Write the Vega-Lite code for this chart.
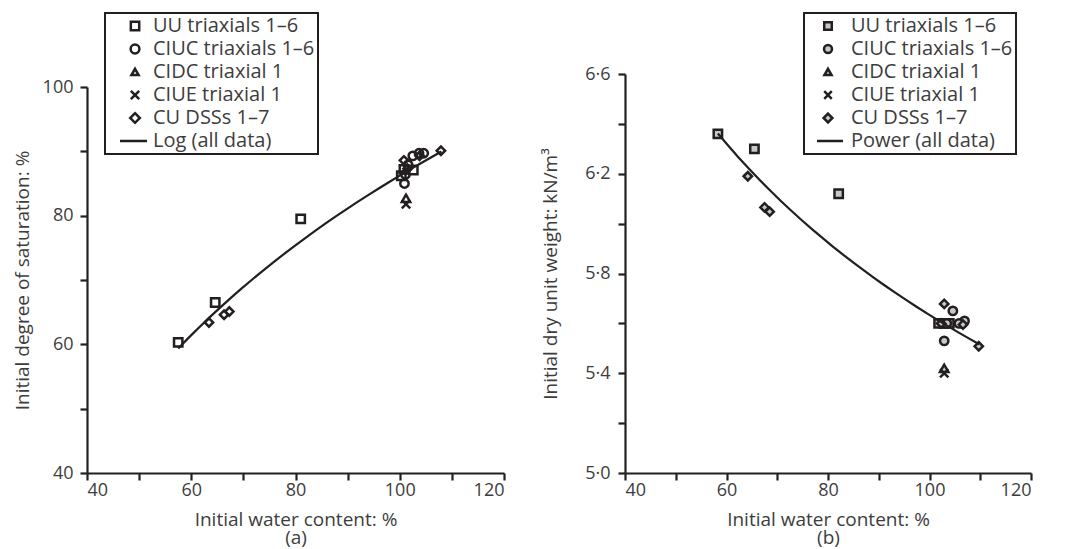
{
  "$schema": "https://vega.github.io/schema/vega-lite/v6.json",
  "background": "white",
  "padding": {"left": 13, "top": 12, "right": 5, "bottom": 6},
  "bounds": "flush",
  "spacing": 121,
  "config": {
    "font": "Open Sans",
    "view": {"stroke": null},
    "axis": {
      "grid": false,
      "domainColor": "#231f20",
      "domainWidth": 2.2,
      "tickColor": "#231f20",
      "tickWidth": 2.2,
      "tickSize": 7,
      "labelFont": "Open Sans",
      "labelFontSize": 18,
      "labelColor": "#3d3d3d",
      "titleFont": "Open Sans",
      "titleFontSize": 19,
      "titleFontWeight": "normal",
      "titleColor": "#3d3d3d"
    },
    "legend": {
      "orient": "none",
      "title": null,
      "padding": 3,
      "rowPadding": 3,
      "symbolSize": 70,
      "symbolStrokeWidth": 2.5,
      "symbolStrokeColor": "#231f20",
      "strokeColor": "#231f20",
      "strokeWidth": 2,
      "labelFont": "Open Sans",
      "labelFontSize": 20,
      "labelColor": "#3d3d3d",
      "labelLimit": 400
    }
  },
  "datasets": {
    "a": [
      {"series": "UU triaxials 1–6", "w": 57.5, "Sr": 60.3},
      {"series": "UU triaxials 1–6", "w": 64.6, "Sr": 66.5},
      {"series": "UU triaxials 1–6", "w": 81.0, "Sr": 79.5},
      {"series": "UU triaxials 1–6", "w": 100.3, "Sr": 86.2},
      {"series": "UU triaxials 1–6", "w": 100.8, "Sr": 87.2},
      {"series": "UU triaxials 1–6", "w": 102.6, "Sr": 87.1},
      {"series": "CIUC triaxials 1–6", "w": 100.9, "Sr": 85.0},
      {"series": "CIUC triaxials 1–6", "w": 101.1, "Sr": 86.4},
      {"series": "CIUC triaxials 1–6", "w": 102.5, "Sr": 89.3},
      {"series": "CIUC triaxials 1–6", "w": 103.7, "Sr": 89.7},
      {"series": "CIUC triaxials 1–6", "w": 104.6, "Sr": 89.7},
      {"series": "CIUC triaxials 1–6", "w": 101.6, "Sr": 87.9},
      {"series": "CIDC triaxial 1", "w": 101.2, "Sr": 82.7},
      {"series": "CIUE triaxial 1", "w": 101.2, "Sr": 81.8},
      {"series": "CU DSSs 1–7", "w": 63.4, "Sr": 63.4},
      {"series": "CU DSSs 1–7", "w": 66.3, "Sr": 64.6},
      {"series": "CU DSSs 1–7", "w": 67.3, "Sr": 65.1},
      {"series": "CU DSSs 1–7", "w": 100.8, "Sr": 88.6},
      {"series": "CU DSSs 1–7", "w": 107.9, "Sr": 90.1},
      {"series": "CU DSSs 1–7", "w": 103.8, "Sr": 89.3},
      {"series": "CU DSSs 1–7", "w": 101.5, "Sr": 87.3}
    ],
    "b": [
      {"series": "UU triaxials 1–6", "w": 58.3, "g": 6.36},
      {"series": "UU triaxials 1–6", "w": 65.5, "g": 6.30},
      {"series": "UU triaxials 1–6", "w": 82.1, "g": 6.12},
      {"series": "UU triaxials 1–6", "w": 101.8, "g": 5.60},
      {"series": "UU triaxials 1–6", "w": 102.8, "g": 5.60},
      {"series": "UU triaxials 1–6", "w": 103.9, "g": 5.60},
      {"series": "CIUC triaxials 1–6", "w": 102.9, "g": 5.53},
      {"series": "CIUC triaxials 1–6", "w": 104.6, "g": 5.65},
      {"series": "CIUC triaxials 1–6", "w": 106.5, "g": 5.60},
      {"series": "CIUC triaxials 1–6", "w": 106.9, "g": 5.61},
      {"series": "CIUC triaxials 1–6", "w": 103.4, "g": 5.60},
      {"series": "CIUC triaxials 1–6", "w": 105.8, "g": 5.60},
      {"series": "CIDC triaxial 1", "w": 102.9, "g": 5.42},
      {"series": "CIUE triaxial 1", "w": 102.9, "g": 5.40},
      {"series": "CU DSSs 1–7", "w": 64.2, "g": 6.19},
      {"series": "CU DSSs 1–7", "w": 67.5, "g": 6.065},
      {"series": "CU DSSs 1–7", "w": 68.5, "g": 6.048},
      {"series": "CU DSSs 1–7", "w": 102.9, "g": 5.678},
      {"series": "CU DSSs 1–7", "w": 109.7, "g": 5.508},
      {"series": "CU DSSs 1–7", "w": 106.6, "g": 5.595},
      {"series": "CU DSSs 1–7", "w": 102.3, "g": 5.60}
    ]
  },
  "resolve": {"scale": {"shape": "independent"}, "legend": {"shape": "independent"}},
  "hconcat": [
    {
      "width": 417,
      "height": 399,
      "data": {"name": "a"},
      "resolve": {"scale": {"shape": "independent"}, "legend": {"shape": "independent"}},
      "layer": [
        {
          "mark": {"type": "point", "filled": false, "size": 70, "strokeWidth": 2.5, "color": "#231f20", "opacity": 1},
          "encoding": {
            "x": {
              "field": "w", "type": "quantitative",
              "scale": {"domain": [40, 120], "nice": false, "zero": false},
              "axis": {
                "values": [40, 50, 60, 70, 80, 90, 100, 110, 120],
                "labelExpr": "datum.value % 20 === 0 ? datum.label : ''",
                "title": ["Initial water content: %", "(a)"],
                "titleLineHeight": 18,
                "labelPadding": 1,
                "titlePadding": 11,
                "encode": {"ticks": {"update": {
                  "y": {"signal": "datum.value % 20 === 0 ? -6 : 0"},
                  "y2": {"signal": "datum.value % 20 === 0 ? 7 : 5"}
                }}}
              }
            },
            "y": {
              "field": "Sr", "type": "quantitative",
              "scale": {"domain": [40, 100], "nice": false, "zero": false, "range": [399, 13]},
              "axis": {
                "values": [40, 50, 60, 70, 80, 90, 100],
                "labelExpr": "datum.value % 20 === 0 ? datum.label : ''",
                "title": "Initial degree of saturation: %",
                "labelPadding": 7,
                "titlePadding": 10,
                "encode": {"ticks": {"update": {
                  "x": {"signal": "datum.value % 20 === 0 ? 7 : 0"},
                  "x2": {"signal": "datum.value % 20 === 0 ? -7 : -5"}
                }}}
              }
            },
            "shape": {
              "field": "series", "type": "nominal",
              "scale": {
                "domain": ["UU triaxials 1–6", "CIUC triaxials 1–6", "CIDC triaxial 1", "CIUE triaxial 1", "CU DSSs 1–7"],
                "range": ["square", "circle", "triangle-up", "M-1,-1L1,1M1,-1L-1,1", "diamond"]
              },
              "legend": null
            }
          }
        },
        {
          "transform": [{"regression": "Sr", "on": "w", "method": "log", "extent": [57.5, 108]}],
          "mark": {"type": "line", "color": "#231f20", "strokeWidth": 2.2},
          "encoding": {
            "x": {"field": "w", "type": "quantitative"},
            "y": {"field": "Sr", "type": "quantitative"}
          }
        },
        {
          "transform": [{"filter": "false"}],
          "mark": {"type": "point", "filled": false, "size": 70, "strokeWidth": 2.5, "color": "#231f20", "opacity": 1},
          "encoding": {
            "x": {"field": "w", "type": "quantitative"},
            "y": {"field": "Sr", "type": "quantitative"},
            "shape": {
              "field": "series", "type": "nominal",
              "scale": {
                "domain": ["UU triaxials 1–6", "CIUC triaxials 1–6", "CIDC triaxial 1", "CIUE triaxial 1", "CU DSSs 1–7", "Log (all data)"],
                "range": [
                  "M3.07,-1L5.07,-1L5.07,1L3.07,1Z",
                  "M5.12,0A1.05,1.05,0,1,1,3.02,0A1.05,1.05,0,1,1,5.12,0Z",
                  "M4.07,-0.75L4.92,0.72L3.22,0.72Z",
                  "M3.07,-1L5.07,1M5.07,-1L3.07,1",
                  "M4.07,-1.15L5.22,0L4.07,1.15L2.92,0Z",
                  "M0.48,0L6.94,0"
                ]
              },
              "legend": {"legendX": 18, "legendY": -61, "labelOffset": 25, "labelExpr": "datum.label + '\u00a0\u00a0\u00a0'"}
            }
          }
        }
      ]
    },
    {
      "width": 406,
      "height": 399,
      "data": {"name": "b"},
      "resolve": {"scale": {"shape": "independent"}, "legend": {"shape": "independent"}},
      "layer": [
        {
          "mark": {"type": "point", "filled": false, "fill": "#c8c8c8", "stroke": "#231f20", "color": "#231f20", "size": 70, "strokeWidth": 2.5, "opacity": 1},
          "encoding": {
            "x": {
              "field": "w", "type": "quantitative",
              "scale": {"domain": [40, 120], "nice": false, "zero": false},
              "axis": {
                "values": [40, 50, 60, 70, 80, 90, 100, 110, 120],
                "labelExpr": "datum.value % 20 === 0 ? datum.label : ''",
                "title": ["Initial water content: %", "(b)"],
                "titleLineHeight": 18,
                "labelPadding": 1,
                "titlePadding": 11,
                "encode": {"ticks": {"update": {
                  "y": {"signal": "datum.value % 20 === 0 ? -6 : 0"},
                  "y2": {"signal": "datum.value % 20 === 0 ? 7 : 5"}
                }}}
              }
            },
            "y": {
              "field": "g", "type": "quantitative",
              "scale": {"domain": [5.0, 6.6], "nice": false, "zero": false},
              "axis": {
                "values": [5.0, 5.2, 5.4, 5.6, 5.8, 6.0, 6.2, 6.4, 6.6],
                "labelExpr": "round(datum.value * 10) % 4 === 2 ? replace(format(datum.value, '.1f'), '.', '·') : ''",
                "title": "Initial dry unit weight: kN/m³",
                "labelPadding": 8,
                "titlePadding": 24,
                "encode": {"ticks": {"update": {
                  "x": {"signal": "round(datum.value * 10) % 4 === 2 ? 7 : 0"},
                  "x2": {"signal": "round(datum.value * 10) % 4 === 2 ? -7 : -5"}
                }}}
              }
            },
            "shape": {
              "field": "series", "type": "nominal",
              "scale": {
                "domain": ["UU triaxials 1–6", "CIUC triaxials 1–6", "CIDC triaxial 1", "CIUE triaxial 1", "CU DSSs 1–7"],
                "range": ["square", "circle", "triangle-up", "M-1,-1L1,1M1,-1L-1,1", "diamond"]
              },
              "legend": null
            }
          }
        },
        {
          "transform": [{"regression": "g", "on": "w", "method": "pow", "extent": [58.3, 109.8]}],
          "mark": {"type": "line", "color": "#231f20", "strokeWidth": 2.2},
          "encoding": {
            "x": {"field": "w", "type": "quantitative"},
            "y": {"field": "g", "type": "quantitative"}
          }
        },
        {
          "transform": [{"filter": "false"}],
          "mark": {"type": "point", "filled": true, "color": "#c8c8c8", "size": 70, "opacity": 1},
          "encoding": {
            "x": {"field": "w", "type": "quantitative"},
            "y": {"field": "g", "type": "quantitative"},
            "shape": {
              "field": "series", "type": "nominal",
              "scale": {
                "domain": ["UU triaxials 1–6", "CIUC triaxials 1–6", "CIDC triaxial 1", "CIUE triaxial 1", "CU DSSs 1–7", "Power (all data)"],
                "range": [
                  "M1.73,-0.9L3.53,-0.9L3.53,0.9L1.73,0.9Z",
                  "M3.58,0A0.95,0.95,0,1,1,1.68,0A0.95,0.95,0,1,1,3.58,0Z",
                  "M2.63,-0.75L3.48,0.72L1.78,0.72Z",
                  "M1.73,-0.9L3.53,0.9M3.53,-0.9L1.73,0.9",
                  "M2.63,-1.05L3.68,0L2.63,1.05L1.58,0Z",
                  "M0,0L6.22,0"
                ]
              },
              "legend": {"legendX": 179, "legendY": -61, "labelOffset": 24, "labelOpacity": 0, "strokeColor": "transparent", "symbolFillColor": "#c8c8c8", "labelExpr": "datum.label + '\u00a0\u00a0\u00a0'"}
            }
          }
        },
        {
          "transform": [{"filter": "false"}],
          "mark": {"type": "point", "filled": false, "size": 70, "strokeWidth": 2.5, "color": "#231f20", "opacity": 1},
          "encoding": {
            "x": {"field": "w", "type": "quantitative"},
            "y": {"field": "g", "type": "quantitative"},
            "shape": {
              "field": "series", "type": "nominal",
              "scale": {
                "domain": ["UU triaxials 1–6", "CIUC triaxials 1–6", "CIDC triaxial 1", "CIUE triaxial 1", "CU DSSs 1–7", "Power (all data)"],
                "range": [
                  "M1.73,-0.9L3.53,-0.9L3.53,0.9L1.73,0.9Z",
                  "M3.58,0A0.95,0.95,0,1,1,1.68,0A0.95,0.95,0,1,1,3.58,0Z",
                  "M2.63,-0.75L3.48,0.72L1.78,0.72Z",
                  "M1.73,-0.9L3.53,0.9M3.53,-0.9L1.73,0.9",
                  "M2.63,-1.05L3.68,0L2.63,1.05L1.58,0Z",
                  "M0,0L6.22,0"
                ]
              },
              "legend": {"legendX": 179, "legendY": -61, "labelOffset": 24, "labelExpr": "datum.label + '\u00a0\u00a0\u00a0'"}
            }
          }
        }
      ]
    }
  ]
}
